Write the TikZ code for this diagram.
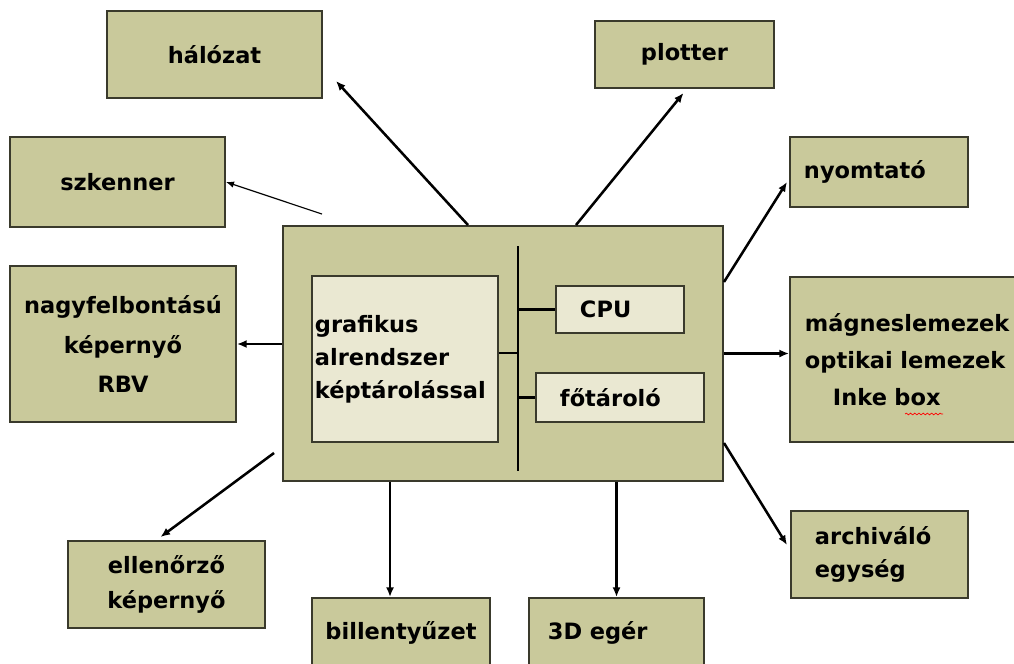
\documentclass[tikz,border=0pt]{standalone}
\usepackage{fontspec}
\setmainfont{DejaVu Sans}
\usetikzlibrary{arrows.meta,calc,decorations.pathmorphing}
\definecolor{khaki}{RGB}{201,201,155}
\definecolor{khakilight}{RGB}{234,232,210}
\definecolor{rim}{RGB}{58,58,44}

\begin{document}
\begin{tikzpicture}[
  x=0.025cm, y=-0.025cm,
  every node/.style={font=\fontsize{16}{24}\selectfont\bfseries},
  unitbox/.style 2 args={draw=rim, line width=1.4pt, fill=khaki,
                  minimum width=#1*0.025cm, minimum height=#2*0.025cm,
                  inner sep=0pt, align=center},
  partbox/.style 2 args={unitbox={#1}{#2}, fill=khakilight},
  arr/.style ={-{Latex[length=2.4mm,width=2mm]}, line width=1.8pt},
  thinarr/.style={-{Latex[length=2mm,width=1.6mm]}, line width=0.8pt},
  bus/.style={line width=1.8pt}]

\useasboundingbox (0,0) rectangle (1014,664);
\clip (0,0) rectangle (1014,664);

%% central unit
\node[unitbox={440}{255}] (main) at (503,353.5) {};
\node[partbox={186}{166}, align=left, text width=4.5cm,
      font=\fontsize{16}{23.5}\selectfont\bfseries] (graf) at (405,359)
      {grafikus\\alrendszer\\képtárolással};
\node[partbox={128}{47}, align=left, text width=2cm]  (cpu)      at (620,309.5) {CPU};
\node[partbox={168}{49}, align=left, text width=3cm]  (fotarolo) at (620,397.5) {főtároló};

%% peripherals
\node[unitbox={215}{87}]  (halozat)  at (214.5,54.5) {hálózat};
\node[unitbox={215}{90}]  (szkenner) at (117.5,182)  {szkenner};
\node[unitbox={179}{67}]  (plotter)  at (684.5,54.5) {plotter};
\node[unitbox={178}{70}, align=left, text width=3.75cm] (nyomtato) at (879,172) {nyomtató};
\node[unitbox={226}{156}, font=\fontsize{16}{28}\selectfont\bfseries] (nagy) at (123,344)
      {nagyfelbontású\\képernyő\\RBV};
\node[unitbox={240}{165}, align=left, text width=5.25cm,
      font=\fontsize{16}{26.3}\selectfont\bfseries] (magnes) at (910,359.5)
      {mágneslemezek\\optikai lemezek\\\hspace*{0.7cm}Inke box};
\node[unitbox={197}{87}, font=\fontsize{16}{24.9}\selectfont\bfseries] (ellenorzo) at (166.5,584.5)
      {ellenőrző\\képernyő};
\node[unitbox={177}{87}, align=left, text width=3.225cm,
      font=\fontsize{16}{23.5}\selectfont\bfseries] (archivalo) at (879.5,554.5)
      {archiváló\\egység};
\node[unitbox={178}{70}]  (billenty) at (401,633) {billentyűzet};
\node[unitbox={175}{70}, align=left, text width=3.425cm] (eger) at (616.5,633) {3D egér};

%% bus inside the central unit
\coordinate (bustop) at (518,246);
\coordinate (busbot) at (518,471);
\coordinate (grafport) at ([yshift=0.15cm]graf.east);
\draw[bus] (bustop) -- (busbot);
\draw[bus] (grafport) -- (grafport -| bustop);
\draw[bus] (cpu.west -| bustop) -- (cpu.west);
\draw[bus] (fotarolo.west -| bustop) -- (fotarolo.west);

%% connections to the peripherals
\draw[arr] ($(main.north west)+(186,0)$) -- ($(halozat.south east)+(13,-18)$);
\draw[thinarr] ($(main.north west)+(40,-11)$) -- (szkenner.east);
\draw[arr] ($(main.north west)+(294,0)$) -- ($(plotter.south)+(-1,4)$);
\draw[arr] ($(main.north east)+(0,57)$) -- ($(nyomtato.west)+(-2,10)$);
\draw[arr] (main.west |- nagy.east) -- (nagy.east);
\draw[arr] (main.east) -- (main.east -| magnes.west);
\draw[arr] ($(main.south west)+(-8,-29)$) -- ($(ellenorzo.north)+(-6,-3)$);
\draw[arr] ($(main.south west)+(108,0)$) -- ($(billenty.north west)+(79,0)$);
\draw[arr] (main.south -| eger.north) -- (eger.north);
\draw[arr] ($(main.south east)+(0,-39)$) -- ($(archivalo.west)+(-3,-9.5)$);

%% spell-check mark under "box"
\draw[red, line width=0.5pt, decorate,
      decoration={snake, amplitude=0.6pt, segment length=3pt}]
      (905,414) -- (943,414);
\end{tikzpicture}
\end{document}
